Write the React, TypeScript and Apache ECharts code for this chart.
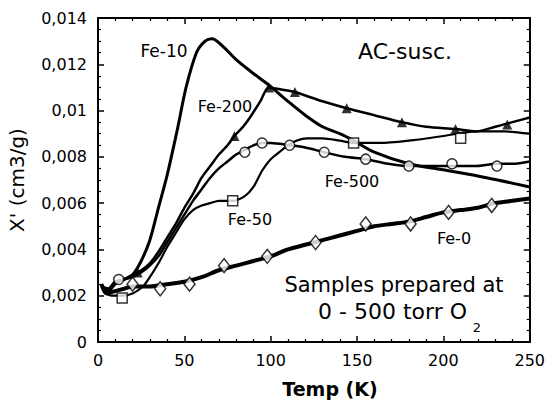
import React, { useEffect, useRef } from "react";
import * as echarts from "echarts";

// Temperature (K), X' (cm3/g)
const fe10: number[][] = [
  [2, 0.0024], [6, 0.0023], [10, 0.0026], [15, 0.0027], [20, 0.0029], [25, 0.0035],
  [30, 0.0044], [35, 0.0058], [40, 0.0072], [46, 0.0092], [51, 0.011], [57, 0.0125],
  [62, 0.013], [66, 0.0131], [72, 0.0128], [80, 0.0122], [90, 0.0116], [99, 0.0111],
  [110, 0.0104], [120, 0.0098], [130, 0.0093], [140, 0.009], [148, 0.0087], [160, 0.0082],
  [180, 0.0077], [203, 0.0074], [225, 0.0071], [250, 0.0067],
];
const fe200: number[][] = [
  [2, 0.0025], [6, 0.0022], [10, 0.0026], [15, 0.0027], [20, 0.0029], [25, 0.0031],
  [30, 0.0034], [35, 0.0039], [40, 0.0045], [45, 0.0051], [50, 0.0058], [55, 0.0064],
  [60, 0.0071], [65, 0.0076], [70, 0.0081], [75, 0.0085], [79, 0.0089], [84, 0.0093],
  [88, 0.0097], [94, 0.0104], [99, 0.011], [107, 0.0109], [114, 0.0108], [130, 0.0104],
  [144, 0.0101], [160, 0.0098], [176, 0.0095], [190, 0.0093], [207, 0.0092], [219, 0.0091],
  [230, 0.0093], [240, 0.0095], [250, 0.0097],
];
const fe200Markers: number[][] = [
  [23, 0.003], [79, 0.0089], [99, 0.011], [114, 0.0108], [144, 0.0101], [176, 0.0095],
  [207, 0.0092], [237, 0.0094],
];
const fe500: number[][] = [
  [2, 0.0024], [6, 0.0022], [10, 0.0025], [15, 0.0027], [20, 0.0028], [25, 0.003],
  [30, 0.0033], [35, 0.0037], [40, 0.0043], [45, 0.0049], [50, 0.0055], [55, 0.0061],
  [60, 0.0066], [65, 0.0071], [70, 0.0075], [75, 0.0078], [80, 0.0081], [85, 0.0083],
  [90, 0.0085], [95, 0.0086], [100, 0.0086], [111, 0.0085], [120, 0.0084], [131, 0.0082],
  [143, 0.008], [155, 0.0079], [168, 0.0077], [180, 0.0076], [193, 0.0076], [205, 0.0076],
  [218, 0.0076], [231, 0.0077], [240, 0.0077], [250, 0.0078],
];
const fe500Markers: number[][] = [
  [12, 0.0027], [85, 0.0082], [95, 0.0086], [111, 0.0085], [131, 0.0082], [155, 0.0079],
  [180, 0.0076], [205, 0.0077], [231, 0.0076],
];
const fe50: number[][] = [
  [3, 0.0022], [8, 0.002], [14, 0.002], [20, 0.0021], [26, 0.0024], [30, 0.0028],
  [35, 0.0034], [40, 0.0041], [45, 0.0047], [50, 0.0053], [55, 0.0057], [60, 0.0059],
  [65, 0.006], [70, 0.0061], [78, 0.0061], [85, 0.0063], [90, 0.0067], [95, 0.0074],
  [100, 0.0079], [105, 0.0082], [110, 0.0085], [115, 0.0087], [121, 0.0088], [130, 0.0088],
  [140, 0.0087], [148, 0.0086], [163, 0.0086], [180, 0.0087], [200, 0.0089], [219, 0.0091],
  [235, 0.0091], [250, 0.009],
];
const fe50Markers: number[][] = [[14, 0.0019], [78, 0.0061], [148, 0.0086], [210, 0.0088]];
const fe0: number[][] = [
  [2, 0.0025], [5, 0.0021], [10, 0.0022], [15, 0.0023], [20, 0.0024], [30, 0.0024],
  [40, 0.0025], [50, 0.0026], [60, 0.0028], [70, 0.0031], [80, 0.0033], [90, 0.0035],
  [100, 0.0037], [110, 0.004], [120, 0.0042], [130, 0.0044], [140, 0.0046], [150, 0.0048],
  [160, 0.005], [170, 0.0051], [180, 0.0052], [190, 0.0054], [200, 0.0056], [210, 0.0057],
  [220, 0.0058], [230, 0.006], [240, 0.0061], [250, 0.0062],
];
const fe0Markers: number[][] = [
  [20, 0.0025], [36, 0.0023], [53, 0.0025], [73, 0.0033], [98, 0.0037], [126, 0.0043],
  [155, 0.0051], [181, 0.0051], [203, 0.0056], [228, 0.0059],
];

const yTickLabels = ["0", "0,002", "0,004", "0,006", "0,008", "0,01", "0,012", "0,014"];
const xTickLabels = ["0", "50", "100", "150", "200", "250"];
const seriesNames = ["Fe-10", "Fe-200", "Fe-50", "Fe-500", "Fe-0"];

const FONT = "DejaVu Sans";

export default function App() {
  const ref = useRef<HTMLDivElement>(null);
  useEffect(() => {
    const chart = echarts.init(ref.current!, null, { renderer: "svg" });
    const axisLine = { show: true, onZero: false, lineStyle: { color: "#000", width: 2 } };
    const axisTick = { show: true, inside: true, length: 6, lineStyle: { color: "#000", width: 1.5 } };
    const minorTickX = { show: true, splitNumber: 5, length: 3, lineStyle: { color: "#000", width: 1.2 } };
    const minorTickY = { show: true, splitNumber: 4, length: 3, lineStyle: { color: "#000", width: 1.2 } };
    const xBase = { type: "value", min: 0, max: 250, interval: 50, splitLine: { show: false } };
    const yBase = { type: "value", min: 0, max: 0.014, interval: 0.002, splitLine: { show: false } };
    const line = (data: number[][], width: number) => ({
      type: "line",
      data,
      showSymbol: false,
      smooth: 0.3,
      lineStyle: { color: "#000", width },
      itemStyle: { color: "#000" },
      silent: true,
    });
    const marks = (data: number[][], symbol: string, size: any, filled: boolean) => ({
      type: "scatter",
      data,
      symbol,
      symbolSize: size,
      z: 5,
      itemStyle: filled
        ? { color: "#000" }
        : { color: "#fff", borderColor: "#000", borderWidth: 1.5 },
    });
    const txt = (text: string, x: number, y: number, size: number, extra: any = {}) => ({
      type: "text",
      x,
      y,
      z: 10,
      style: {
        text,
        fill: "#000",
        fontFamily: FONT,
        fontSize: size,
        textAlign: "center",
        textVerticalAlign: "middle",
        ...extra,
      },
    });
    chart.setOption({
      animation: false,
      backgroundColor: "#fff",
      grid: { left: 98, right: 17, top: 18, bottom: 62 },
      xAxis: [
        {
          ...xBase,
          position: "bottom",
          axisLine,
          axisTick,
          minorTick: minorTickX,
          axisLabel: {
            color: "#000",
            fontFamily: FONT,
            fontSize: 16,
            margin: 10,
            formatter: (v: number) => xTickLabels[Math.round(v / 50)],
          },
        },
        {
          ...xBase,
          position: "top",
          axisLine,
          axisTick,
          minorTick: minorTickX,
          axisLabel: { show: false },
        },
      ],
      yAxis: [
        {
          ...yBase,
          position: "left",
          axisLine,
          axisTick,
          minorTick: minorTickY,
          axisLabel: {
            color: "#000",
            fontFamily: FONT,
            fontSize: 16,
            margin: 11,
            formatter: (v: number) => yTickLabels[Math.round(v / 0.002)],
          },
        },
        {
          ...yBase,
          position: "right",
          axisLine,
          axisTick,
          minorTick: minorTickY,
          axisLabel: { show: false },
        },
      ],
      series: [
        line(fe10, 3),
        line(fe200, 2.5),
        line(fe500, 2.5),
        line(fe50, 2.2),
        line(fe0, 4),
        marks(fe200Markers, "triangle", 10, true),
        marks(fe500Markers, "circle", 10, false),
        marks(fe50Markers, "rect", 10, false),
        marks(fe0Markers, "diamond", [11, 14], false),
      ],
      graphic: [
        txt(seriesNames[0], 164, 51, 17),
        txt(seriesNames[1], 225, 106, 16),
        txt(seriesNames[2], 250, 219, 16),
        txt(seriesNames[3], 352, 181, 16),
        txt(seriesNames[4], 454, 238, 16),
        txt("AC-susc.", 405, 51, 22),
        txt("Samples prepared at", 394, 285, 21),
        txt("0 - 500 torr O", 318, 311, 22, { textAlign: "left" }),
        txt("2", 477, 327, 13),
        txt("Temp (K)", 330, 389, 19, { fontWeight: "bold" }),
        { ...txt("X' (cm3/g)", 17, 180, 20), rotation: Math.PI / 2 },
      ],
    });
    return () => chart.dispose();
  }, []);
  return (
    <div
      ref={ref}
      style={{ position: "fixed", left: 0, top: 0, width: 548, height: 404, background: "#fff" }}
    />
  );
}
